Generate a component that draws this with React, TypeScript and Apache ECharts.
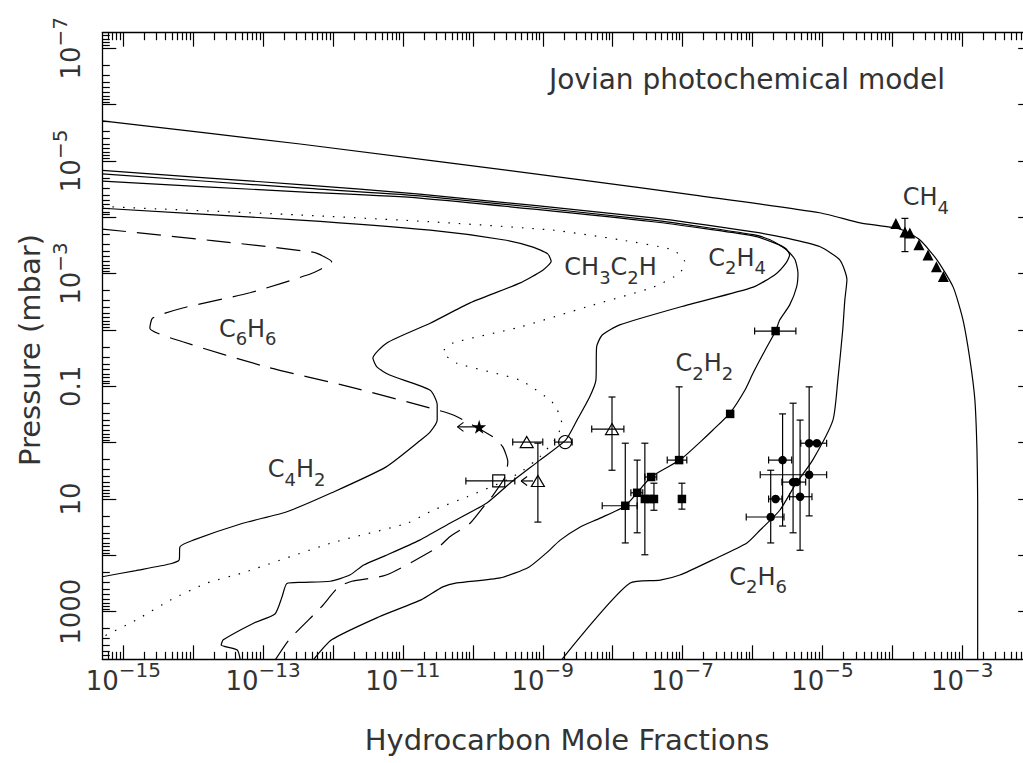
import { useEffect, useRef } from "react";
import * as echarts from "echarts";

const FONT = '"DejaVu Sans", "Liberation Sans", sans-serif';
const INK = "#333333";

// axis ranges (log10 of mole fraction, log10 of pressure in mbar)
const xRange = [-15.3, -2.0];
const yRange = [-7.275, 3.845];
const xLabelExps = [-15, -13, -11, -9, -7, -5, -3];
const yLabelExps = [-7, -5, -3, -1, 1, 3];
const yLabelTexts = ["10^-7", "10^-5", "10^-3", "0.1", "10", "1000"];

const titleText = "Jovian photochemical model";
const xTitle = "Hydrocarbon Mole Fractions";
const yTitle = "Pressure (mbar)";

// model profiles: [log10 mole fraction, log10 pressure]
const ch4Curve = [[-15.3,-5.71],[-12.47,-5.3],[-8.43,-4.66],[-6.75,-4.38],[-5.04,-4.08],[-4.46,-3.9],[-3.89,-3.79],[-3.61,-3.6],[-3.36,-3.24],[-3.13,-2.76],[-2.99,-2.18],[-2.89,-1.47],[-2.82,-0.76],[-2.79,0.13],[-2.78,1.02],[-2.78,3.9]];
const c2h6Curve = [[-15.3,-4.83],[-12.47,-4.58],[-10.76,-4.41],[-7.42,-3.99],[-5.99,-3.74],[-5.51,-3.63],[-5.04,-3.48],[-4.75,-3.24],[-4.65,-2.89],[-4.68,-2.53],[-4.71,-2.0],[-4.78,-1.11],[-4.85,-0.4],[-5.14,0.31],[-5.39,0.75],[-5.61,1.2],[-5.89,1.55],[-6.08,1.78],[-6.57,2.08],[-7.04,2.35],[-7.32,2.44],[-7.75,2.49],[-8.76,3.9]];
const c2h2Curve = [[-15.3,-4.77],[-12.47,-4.52],[-10.76,-4.38],[-7.42,-3.95],[-5.99,-3.69],[-5.75,-3.6],[-5.57,-3.47],[-5.47,-3.37],[-5.39,-3.24],[-5.35,-3.01],[-5.37,-2.76],[-5.47,-2.44],[-5.61,-2.18],[-5.67,-1.98],[-5.82,-1.64],[-5.99,-1.24],[-6.11,-0.93],[-6.32,-0.53],[-6.57,-0.22],[-6.75,-0.01],[-7.04,0.31],[-7.45,0.61],[-7.82,1.12],[-8.18,1.34],[-8.47,1.5],[-8.75,1.73],[-8.95,1.96],[-9.2,2.21],[-9.61,2.4],[-10.23,2.49],[-10.43,2.56],[-10.74,2.79],[-11.34,3.09],[-12.02,3.5],[-12.31,3.9]];
const c2h4Curve = [[-15.3,-4.64],[-12.47,-4.45],[-10.76,-4.34],[-7.42,-3.92],[-5.99,-3.67],[-5.68,-3.54],[-5.52,-3.44],[-5.47,-3.33],[-5.52,-3.19],[-5.67,-2.99],[-5.99,-2.76],[-6.94,-2.44],[-7.9,-2.09],[-8.15,-1.91],[-8.23,-1.7],[-8.24,-1.11],[-8.33,-0.81],[-8.51,-0.4],[-8.67,-0.05],[-9.04,0.31],[-9.47,0.72],[-9.8,1.07],[-10.33,1.43],[-10.76,1.73],[-11.26,2.01],[-11.56,2.17],[-11.76,2.35],[-12.04,2.46],[-12.45,2.48],[-12.66,2.5],[-12.73,2.74],[-12.83,3.04],[-13.13,3.2],[-13.57,3.5],[-13.6,3.59],[-13.37,3.68],[-13.32,3.9]];
const c4h2Curve = [[-15.3,-4.16],[-12.47,-3.95],[-10.61,-3.77],[-9.57,-3.6],[-9.14,-3.47],[-8.93,-3.35],[-8.88,-3.22],[-9.0,-3.06],[-9.33,-2.83],[-10.04,-2.48],[-10.61,-2.12],[-11.23,-1.77],[-11.43,-1.5],[-11.37,-1.34],[-11.19,-1.2],[-10.61,-0.93],[-10.51,-0.67],[-10.51,-0.4],[-10.61,-0.19],[-10.74,-0.05],[-11.24,0.43],[-12.02,0.89],[-12.67,1.23],[-13.29,1.43],[-14.0,1.73],[-14.19,1.85],[-14.2,2.08],[-14.32,2.15],[-14.82,2.27],[-15.3,2.38]];
const ch3c2hCurve = [[-15.3,-4.19],[-12.47,-4.04],[-10.61,-3.92],[-8.85,-3.77],[-7.9,-3.6],[-7.14,-3.42],[-6.97,-3.21],[-7.04,-3.01],[-7.42,-2.76],[-8.37,-2.41],[-9.33,-2.05],[-10.28,-1.77],[-10.43,-1.61],[-10.23,-1.41],[-9.33,-1.11],[-8.85,-0.7],[-8.73,-0.35],[-8.8,-0.1],[-9.04,0.25],[-9.28,0.49],[-9.51,0.66],[-10.08,0.96],[-10.57,1.2],[-10.94,1.43],[-12.02,1.78],[-13.29,2.31],[-13.8,2.49],[-14.32,2.79],[-14.82,3.15],[-15.3,3.45]];
const c6h6Curve = [[-15.3,-3.79],[-12.29,-3.38],[-12.02,-3.21],[-12.29,-3.01],[-13.19,-2.66],[-14.15,-2.39],[-14.58,-2.21],[-14.62,-2.03],[-14.15,-1.79],[-12.94,-1.34],[-11.76,-0.99],[-10.66,-0.63],[-10.28,-0.49],[-9.71,-0.1],[-9.57,0.08],[-9.5,0.34],[-9.54,0.61],[-9.71,0.93],[-9.83,1.11],[-10.04,1.43],[-10.33,1.67],[-10.49,1.85],[-11.24,2.35],[-11.73,2.46],[-11.92,2.56],[-12.17,2.92],[-12.63,3.5],[-12.85,3.9]];

// observations: [x, p, xLow, xHigh, pLow, pHigh]
const ch4Obs = [[-3.95,-3.89],[-3.82,-3.74],[-3.75,-3.72],[-3.62,-3.51],[-3.49,-3.33],[-3.37,-3.12],[-3.27,-2.95]];
const ch4Err = [[-3.82,-3.74,-3.82,-3.82,-3.98,-3.39]];
const c2h2Obs = [
  [-7.82,1.12,-8.15,-7.65,0.01,1.78],
  [-7.65,0.89,-7.74,-7.57,0.31,1.6],
  [-7.54,1.0,-7.54,-7.54,0.01,1.99],
  [-7.47,1.0,-7.47,-7.47,1.0,1.0],
  [-7.41,1.0,-7.41,-7.41,0.72,1.2],
  [-7.45,0.61,-7.54,-7.37,0.61,0.61],
  [-7.05,0.31,-7.22,-6.94,-0.99,0.31],
  [-7.01,1.0,-7.01,-7.01,0.72,1.18],
  [-6.32,-0.51,-6.32,-6.32,-0.51,-0.51],
  [-5.67,-1.98,-5.97,-5.38,-1.98,-1.98],
];
const c2h6Obs = [
  [-5.74,1.32,-6.09,-5.55,0.49,1.78],
  [-5.67,1.0,-5.77,-5.58,1.0,1.0],
  [-5.57,0.31,-5.77,-5.44,-0.51,1.48],
  [-5.42,0.7,-5.58,-5.24,-0.7,1.6],
  [-5.37,0.7,-5.37,-5.37,0.7,0.7],
  [-5.32,0.96,-5.47,-5.15,-0.4,1.91],
  [-5.19,0.01,-5.19,-5.19,0.01,0.01],
  [-5.08,0.01,-5.31,-4.94,0.01,0.01],
  [-5.19,0.57,-5.89,-4.94,-0.99,1.3],
];
const openTriObs = [
  [-8.01,-0.24,-8.3,-7.84,-0.81,0.49],
  [-9.23,-0.01,-9.43,-9.0,-0.01,-0.01],
  [-9.07,0.68,-9.07,-9.07,0.01,1.41],
];
const openCircleObs = [[-8.68,-0.01,-8.83,-8.58,-0.01,-0.01]];
const openSquareObs = [[-9.63,0.68,-10.1,-9.4,0.68,0.68]];
const starObs = [[-9.91,-0.28]];
// upper limits: [start x, p, arrow tip x]
const limitArrows = [[-9.14,0.68,-9.31],[-9.97,-0.28,-10.22]];

// species labels: [rich text, x, p]
const speciesLabels: [string, number, number][] = [
  ["{n|CH}{s|4}", -3.52, -4.29],
  ["{n|CH}{s|3}{n|C}{s|2}{n|H}", -8.03, -3.05],
  ["{n|C}{s|2}{n|H}{s|4}", -6.22, -3.22],
  ["{n|C}{s|2}{n|H}{s|2}", -6.69, -1.35],
  ["{n|C}{s|6}{n|H}{s|6}", -13.22, -1.96],
  ["{n|C}{s|4}{n|H}{s|2}", -12.52, 0.53],
  ["{n|C}{s|2}{n|H}{s|6}", -5.92, 2.44],
];

const STAR = "path://M50,0 L61,35 L98,35 L68,57 L79,91 L50,70 L21,91 L32,57 L2,35 L39,35 Z";

function ticksBetween(lo: number, hi: number, minor: boolean) {
  const out: number[] = [];
  for (let n = Math.floor(lo) - 1; n <= Math.ceil(hi); n++) {
    if (!minor) {
      if (n >= lo && n <= hi) out.push(n);
    } else {
      for (let k = 2; k <= 9; k++) {
        const v = n + Math.log10(k);
        if (v >= lo && v <= hi) out.push(v);
      }
    }
  }
  return out;
}

const tickStyle = { color: "#000", width: 1.2 };

function makeAxis(dim: "x" | "y", position: string, minor: boolean, withLine: boolean, withLabels: boolean) {
  const range = dim === "x" ? xRange : yRange;
  const axis: any = {
    type: "value",
    position,
    min: range[0],
    max: range[1],
    inverse: dim === "y",
    splitLine: { show: false },
    axisLine: { show: withLine, onZero: false, lineStyle: { color: "#000", width: 1.3 } },
    axisTick: {
      show: true,
      inside: true,
      length: minor ? 7.5 : 14,
      customValues: ticksBetween(range[0], range[1], minor),
      lineStyle: tickStyle,
    },
    axisLabel: { show: false },
  };
  if (withLabels) {
    const rich = {
      a: { fontSize: 26, fontFamily: FONT, color: INK, lineHeight: 26, verticalAlign: "bottom" },
      b: { fontSize: 20, fontFamily: FONT, color: INK, verticalAlign: "top", padding: [0, 0, 14, 0] },
    };
    if (dim === "x") {
      axis.axisLabel = {
        show: true,
        customValues: xLabelExps,
        margin: 1,
        rich,
        formatter: (v: number) => `{a|10}{b|\u2212${Math.abs(Math.round(v))}}`,
      };
    } else {
      axis.axisLabel = {
        show: true,
        customValues: yLabelExps,
        rotate: 90,
        margin: 18,
        rich,
        formatter: (v: number) => {
          const i = yLabelExps.indexOf(Math.round(v));
          const t = yLabelTexts[i] || "";
          if (t.startsWith("10^")) return `{a|10}{b|\u2212${t.slice(4)}}`;
          return `{a|${t}}`;
        },
      };
    }
  }
  return axis;
}

function lineSeries(name: string, data: number[][], type: any) {
  return {
    name,
    type: "line",
    data,
    symbol: "none",
    showSymbol: false,
    smooth: 0.2,
    clip: true,
    silent: true,
    lineStyle: { color: "#000", width: 1.2, type },
    z: 2,
  };
}

const errorBarSeries = (data: number[][]) => ({
  type: "custom",
  data,
  encode: { x: 0, y: 1 },
  silent: true,
  z: 3,
  renderItem: (_p: any, api: any) => {
    const x = api.value(0), y = api.value(1);
    const xlo = api.value(2), xhi = api.value(3), ylo = api.value(4), yhi = api.value(5);
    const st = { stroke: "#000", lineWidth: 1.2, fill: null };
    const cap = 3.5;
    const children: any[] = [];
    const seg = (x1: number, y1: number, x2: number, y2: number) =>
      children.push({ type: "line", shape: { x1, y1, x2, y2 }, style: st });
    if (xlo !== xhi) {
      const a = api.coord([xlo, y]), b = api.coord([xhi, y]);
      seg(a[0], a[1], b[0], b[1]);
      seg(a[0], a[1] - cap, a[0], a[1] + cap);
      seg(b[0], b[1] - cap, b[0], b[1] + cap);
    }
    if (ylo !== yhi) {
      const a = api.coord([x, ylo]), b = api.coord([x, yhi]);
      seg(a[0], a[1], b[0], b[1]);
      seg(a[0] - cap, a[1], a[0] + cap, a[1]);
      seg(b[0] - cap, b[1], b[0] + cap, b[1]);
    }
    return { type: "group", children };
  },
});

const arrowSeries = (data: number[][]) => ({
  type: "custom",
  data,
  encode: { x: 0, y: 1 },
  silent: true,
  z: 3,
  renderItem: (_p: any, api: any) => {
    const a = api.coord([api.value(0), api.value(1)]);
    const b = api.coord([api.value(2), api.value(1)]);
    const st = { stroke: "#000", lineWidth: 1.2, fill: null };
    return {
      type: "group",
      children: [
        { type: "line", shape: { x1: a[0], y1: a[1], x2: b[0], y2: b[1] }, style: st },
        { type: "line", shape: { x1: b[0], y1: b[1], x2: b[0] + 6, y2: b[1] - 4.5 }, style: st },
        { type: "line", shape: { x1: b[0], y1: b[1], x2: b[0] + 6, y2: b[1] + 4.5 }, style: st },
      ],
    };
  },
});

const scatter = (data: number[][], symbol: string, size: any, filled: boolean) => ({
  type: "scatter",
  data: data.map((d) => [d[0], d[1]]),
  symbol,
  symbolSize: size,
  silent: true,
  z: 4,
  itemStyle: filled
    ? { color: "#000", opacity: 1 }
    : { color: "rgba(0,0,0,0)", borderColor: "#000", borderWidth: 1.2, opacity: 1 },
});

export default function App() {
  const ref = useRef<HTMLDivElement>(null);
  useEffect(() => {
    if (!ref.current) return;
    const chart = echarts.init(ref.current, null, { renderer: "svg" });
    const option: any = {
      animation: false,
      backgroundColor: "#fff",
      textStyle: { fontFamily: FONT },
      grid: { left: 102.3, top: 32.7, width: 929.9, height: 626.6, containLabel: false, outerBoundsMode: "none" },
      xAxis: [
        makeAxis("x", "bottom", false, true, true),
        makeAxis("x", "bottom", true, false, false),
        makeAxis("x", "top", false, true, false),
        makeAxis("x", "top", true, false, false),
      ],
      yAxis: [
        makeAxis("y", "left", false, true, true),
        makeAxis("y", "left", true, false, false),
        makeAxis("y", "right", false, true, false),
        makeAxis("y", "right", true, false, false),
      ],
      graphic: [
        {
          type: "text", x: 747, y: 79, silent: true,
          style: { text: titleText, fontSize: 28, fontFamily: FONT, fill: INK, align: "center", verticalAlign: "middle", textAlign: "center", textVerticalAlign: "middle" },
        },
        {
          type: "text", x: 567, y: 740, silent: true,
          style: { text: xTitle, fontSize: 29, fontFamily: FONT, fill: INK, align: "center", verticalAlign: "middle", textAlign: "center", textVerticalAlign: "middle" },
        },
        {
          type: "text", x: 30, y: 350, rotation: Math.PI / 2, silent: true,
          style: { text: yTitle, fontSize: 29, fontFamily: FONT, fill: INK, align: "center", verticalAlign: "middle", textAlign: "center", textVerticalAlign: "middle" },
        },
      ],
      series: [
        lineSeries("CH4", ch4Curve, "solid"),
        lineSeries("C2H6", c2h6Curve, "solid"),
        lineSeries("C2H2", c2h2Curve, "solid"),
        lineSeries("C2H4", c2h4Curve, "solid"),
        lineSeries("C4H2", c4h2Curve, "solid"),
        lineSeries("CH3C2H", ch3c2hCurve, [1.5, 9]),
        lineSeries("C6H6", c6h6Curve, [24, 11]),
        errorBarSeries([...ch4Err, ...c2h2Obs, ...c2h6Obs, ...openTriObs, ...openCircleObs, ...openSquareObs]),
        arrowSeries(limitArrows),
        scatter(ch4Obs, "triangle", 11, true),
        scatter(c2h2Obs, "rect", 8.5, true),
        scatter(c2h6Obs, "circle", 8.5, true),
        scatter(openTriObs, "triangle", [13, 11], false),
        scatter(openCircleObs, "circle", 13, false),
        scatter(openSquareObs, "rect", 12, false),
        scatter(starObs, STAR, 14, true),
        {
          type: "scatter",
          silent: true,
          z: 5,
          symbolSize: 1,
          itemStyle: { color: "rgba(0,0,0,0)", opacity: 1 },
          data: speciesLabels.map((l) => ({ value: [l[1], l[2]], label: { formatter: l[0] } })),
          label: {
            show: true,
            position: "inside",
            color: INK,
            opacity: 1,
            textBorderWidth: 0,
            rich: {
              n: { fontSize: 24, fontFamily: FONT, color: INK, lineHeight: 26, verticalAlign: "top" },
              s: { fontSize: 18, fontFamily: FONT, color: INK, padding: [13, 0, 0, 0], verticalAlign: "bottom" },
            },
          },
        },
      ],
    };
    chart.setOption(option);
    return () => chart.dispose();
  }, []);
  return (
    <div
      ref={ref}
      style={{ position: "absolute", left: 0, top: 0, width: 1023, height: 763, overflow: "hidden" }}
    />
  );
}
